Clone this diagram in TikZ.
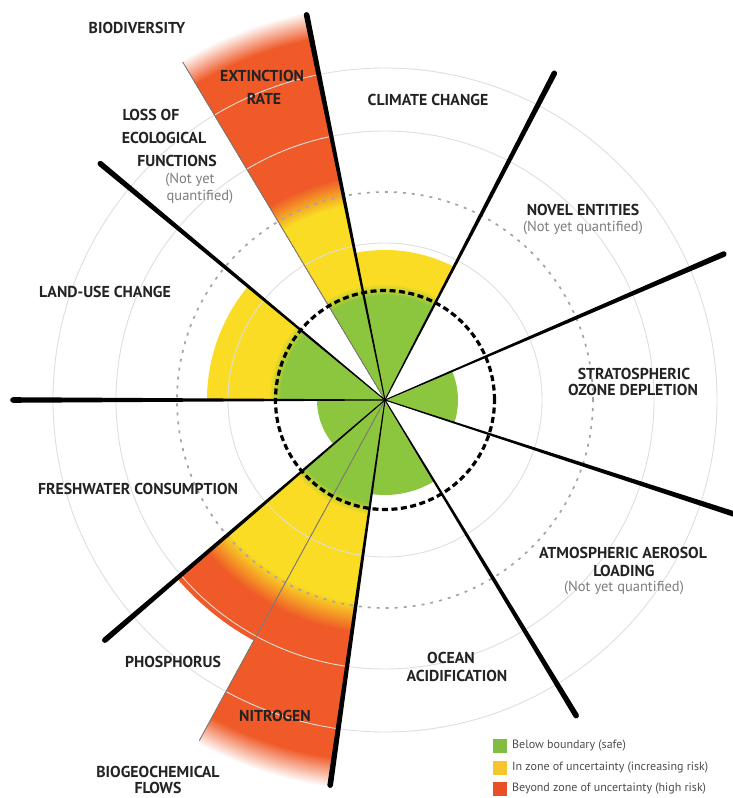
\documentclass[tikz,border=0pt]{standalone}
\usepackage{fontspec}
\setmainfont{PT Sans}
\definecolor{gG}{RGB}{140,198,63}
\definecolor{gY}{RGB}{250,220,36}
\definecolor{gR}{RGB}{239,90,40}
\definecolor{lG}{RGB}{128,189,65}
\definecolor{lY}{RGB}{248,196,43}
\definecolor{lR}{RGB}{232,80,42}
\definecolor{txt}{RGB}{35,35,35}
\definecolor{subc}{RGB}{125,125,125}
\definecolor{gridc}{RGB}{222,222,222}
\definecolor{dotc}{RGB}{160,165,175}
\definecolor{splitc}{RGB}{120,120,120}
\newcommand{\pie}[4]{\fill[#4] (0,0) -- (#1:#3) arc[start angle=#1,end angle=#2,radius=#3 pt] -- cycle;}
\newcommand{\blend}[6]{%
  \foreach \k in {24,...,0}{%
    \pgfmathsetmacro\rr{#3+(#4-#3)*\k/24}%
    \pgfmathsetmacro\pp{100*\k/24}%
    \pie{#1}{#2}{\rr}{#6!\pp!#5}}}
\newcommand{\spoke}[3]{\begin{scope}[rotate=#1]\fill[black] (0,-0.5) -- (#2,-#3) arc[start angle=-90,end angle=90,radius=#3 pt] -- (0,0.5) -- cycle;\end{scope}}
\tikzset{
  lab/.style={font=\fontsize{15.8}{18}\selectfont\bfseries, text=txt, inner sep=0pt},
  sublab/.style={font=\fontsize{14.5}{16}\selectfont, text=subc, inner sep=0pt},
  leg/.style={font=\fontsize{12}{13}\selectfont, text=black!70, inner sep=0pt, anchor=west},
  swatch/.style={minimum width=14pt, minimum height=14pt, inner sep=0pt}
}
\begin{document}
\begin{tikzpicture}[x=1pt,y=1pt]
\useasboundingbox (-385,-398) rectangle (348,400);
% extinction rate
\blend{101.5}{120.9}{368}{396}{gR}{white}
\blend{101.5}{120.9}{198}{226}{gY}{gR}
\blend{101.5}{120.9}{104}{116}{gG}{gY}
% climate change
\pie{62.6}{101.5}{150}{gY}
\blend{62.6}{101.5}{104}{116}{gG}{gY}
% land use
\pie{140.3}{180}{178}{gY}
\blend{140.3}{180}{104}{116}{gG}{gY}
% freshwater
\pie{180}{220.6}{68}{gG}
% phosphorus
\pie{220.6}{241.4}{274}{gR}
\blend{220.6}{241.4}{205}{235}{gY}{gR}
\blend{220.6}{241.4}{104}{116}{gG}{gY}
% nitrogen
\blend{241.4}{261.9}{362}{392}{gR}{white}
\blend{241.4}{261.9}{205}{235}{gY}{gR}
\blend{241.4}{261.9}{104}{116}{gG}{gY}
% ocean
\pie{261.9}{301.2}{95}{gG}
% ozone
\pie{341.9}{383.3}{73}{gG}
% grid circles
\foreach \r in {157,269,332}{\draw[gridc, line width=0.9pt] (0,0) circle[radius=\r pt];}
\draw[dotc, line width=1.7pt, dash pattern=on 3pt off 6pt] (0,0) circle[radius=208pt];
% split lines
\draw[splitc, line width=0.9pt] (0,0) -- (120.9:394);
\draw[splitc, line width=0.9pt] (0,0) -- (241.4:388);
% spokes
\spoke{23.3}{369}{2.8}
\spoke{62.6}{368}{2.8}
\spoke{101.5}{393}{2.8}
\spoke{140.3}{370}{2.8}
\spoke{180}{372}{2.8}
\spoke{220.6}{369}{2.8}
\spoke{261.9}{389}{2.8}
\spoke{301.2}{369}{2.8}
\spoke{341.9}{372}{2.8}
% boundary
\draw[black, line width=3.2pt, dash pattern=on 6pt off 3.5pt] (0,0) circle[radius=109.5pt];
% labels in image coordinates
\begin{scope}[shift={(-385,400)},y=-1pt]
\node[lab] (bio) at (137,28) {BIODIVERSITY};
\node[lab] (ext1) at (262,76) {EXTINCTION};
\node[lab] (ext2) at (264,98.5) {RATE};
\node[lab] (loss1) at (151,115) {LOSS OF};
\node[lab] (loss2) at (164,138) {ECOLOGICAL};
\node[lab] (loss3) at (177,161) {FUNCTIONS};
\node[sublab] (loss4) at (190,180) {(Not yet};
\node[sublab] (loss5) at (200,197) {quantified)};
\node[lab] (clim) at (428,100) {CLIMATE CHANGE};
\node[lab] (nov1) at (583,210) {NOVEL ENTITIES};
\node[sublab] (nov2) at (583,228) {(Not yet quantified)};
\node[lab] (land) at (105,292) {LAND-USE CHANGE};
\node[lab] (oz1) at (634,374) {STRATOSPHERIC};
\node[lab] (oz2) at (633,390) {OZONE DEPLETION};
\node[lab] (fresh) at (138,489) {FRESHWATER CONSUMPTION};
\node[lab] (aer1) at (623,553) {ATMOSPHERIC AEROSOL};
\node[lab] (aer2) at (624,571) {LOADING};
\node[sublab] (aer3) at (624,588) {(Not yet quantified)};
\node[lab] (oc1) at (451,658) {OCEAN};
\node[lab] (oc2) at (457,676) {ACIDIFICATION};
\node[lab] (phos) at (173,662) {PHOSPHORUS};
\node[lab] (nit) at (275,716) {NITROGEN};
\node[lab] (bgc1) at (158,772) {BIOGEOCHEMICAL};
\node[lab] (bgc2) at (158,788) {FLOWS};
% legend
\node[swatch, fill=lG] (sw1) at (500,746) {};
\node[swatch, fill=lY] (sw2) at (500,768) {};
\node[swatch, fill=lR] (sw3) at (500,789) {};
\node[leg] (lg1) at (512,746) {Below boundary (safe)};
\node[leg] (lg2) at (512,768) {In zone of uncertainty (increasing risk)};
\node[leg] (lg3) at (512,789) {Beyond zone of uncertainty (high risk)};
\end{scope}
\end{tikzpicture}
\end{document}
